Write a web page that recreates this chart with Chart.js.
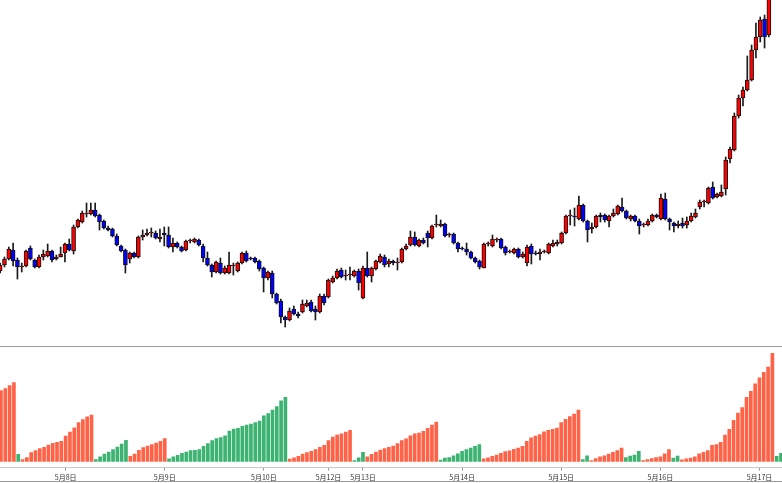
<!DOCTYPE html>
<html><head><meta charset="utf-8">
<script src="https://cdn.jsdelivr.net/npm/chart.js@4.4.1/dist/chart.umd.min.js"></script>
<style>
html,body{margin:0;padding:0;background:#fff;overflow:hidden;width:782px;height:483px;}
#wrap{position:absolute;left:0;top:0;width:782px;height:483px;overflow:hidden;background:#fff;}
#priceCanvas{position:absolute;left:-2px;top:0;}
#volCanvas{position:absolute;left:-2px;top:347px;}
.rule{position:absolute;left:0;width:782px;height:1px;background:#9a9a9a;}
</style></head><body>
<div id="wrap">
<canvas id="priceCanvas" width="786" height="346"></canvas>
<div class="rule" style="top:346px"></div>
<canvas id="volCanvas" width="786" height="138"></canvas>
<div class="rule" style="top:481px"></div>
</div>
<script>
const dayLabels = ['5月8日','5月9日','5月10日','5月12日','5月13日','5月14日','5月15日','5月16日','5月17日'];
const dayStartIndex = [15,38,61,76,84,107,130,153,176];

const open = [
75,81,87,96,86,79,80,98,86,79,
89,90,95,87,89,93,102,95,119,124,
132,132,136,131,125,118,117,110,100,96,
87,93,89,109,111,113,113,107,113,111,
99,103,99,96,105,104,106,100,88,81,
74,83,73,73,80,75,83,93,88,88,
85,78,68,73,52,45,29,26,37,32,
34,40,44,37,34,50,49,64,68,76,
70,71,70,75,48,78,70,77,84,89,
82,85,83,84,97,101,109,100,106,113,
108,121,120,122,111,112,103,98,97,94,
88,85,78,102,100,106,107,99,94,93,
97,89,83,100,93,92,94,93,100,102,
103,113,130,130,127,141,125,117,119,131,
131,125,130,132,139,135,127,130,125,121,
121,125,131,127,147,127,123,120,123,121,
125,129,139,144,143,159,149,150,157,187,
196,230,248,256,266,296,309,327,311,360,
395,385];
const close = [
81,87,97,85,79,80,95,87,79,89,
92,95,86,89,92,102,96,119,126,133,
133,136,130,124,118,116,110,101,95,81,
93,89,109,111,113,114,108,109,111,99,
103,99,95,105,106,107,101,88,81,74,
84,73,78,81,81,83,93,85,87,84,
77,68,74,52,43,29,26,35,32,30,
42,43,35,34,50,43,66,68,75,69,
71,72,75,63,78,70,78,85,90,81,
85,83,84,97,100,109,101,106,103,108,
120,122,122,110,112,103,97,97,94,88,
84,79,102,103,107,107,98,93,95,97,
89,92,99,92,92,94,95,102,103,104,
113,130,131,129,141,125,116,119,130,129,
126,130,133,140,135,128,130,125,120,122,
125,131,129,148,127,124,120,122,120,125,
130,133,144,145,158,148,152,154,186,197,
230,248,256,266,296,309,326,309,360,395,
385,378];
const high = [
83,89,99,103,88,83,96,100,87,91,
96,102,96,91,99,103,107,121,127,135,
143,143,143,132,126,120,118,112,101,97,
94,94,110,116,117,118,115,117,119,119,
108,104,100,106,107,108,107,102,94,82,
85,88,80,94,83,84,94,95,89,89,
86,79,75,75,53,47,30,38,40,34,
46,46,46,40,52,52,67,70,77,78,
76,79,76,77,80,94,79,86,92,91,
87,86,88,98,102,115,114,107,108,115,
121,131,126,123,113,113,104,99,103,95,
89,86,103,104,111,108,108,100,96,98,
98,94,101,102,95,97,96,103,106,106,
114,131,136,138,150,142,126,123,131,133,
132,131,137,141,148,136,131,131,127,123,
127,132,132,152,153,128,124,125,128,129,
133,137,146,146,159,164,153,161,189,199,
233,251,259,290,301,323,329,331,365,400,
402,390];
const low = [
73,79,86,80,67,74,79,86,78,78,
86,89,84,86,89,84,95,92,118,123,
129,131,129,116,117,115,109,100,94,73,
83,88,88,106,110,109,107,104,100,98,
94,98,94,95,103,103,100,84,80,69,
73,72,72,72,71,74,82,84,86,83,
75,54,66,48,42,23,19,25,31,28,
33,39,34,26,33,41,48,63,67,68,
66,66,69,56,47,69,64,76,83,79,
79,81,76,83,96,100,100,99,102,99,
107,119,119,109,109,102,94,96,91,87,
83,77,78,100,99,104,97,91,93,92,
88,88,80,82,91,86,93,92,99,100,
102,112,121,120,126,124,104,113,118,124,
124,119,129,131,134,127,125,124,112,119,
120,124,128,126,126,116,114,118,118,118,
124,128,137,139,142,147,148,149,151,183,
195,228,240,255,265,288,304,298,309,350,
380,372];

const volume = [
70,72,75,78,7,2,4,8.7,10.7,12.7,
14,16.3,18,19,20,25,29,33.3,38.3,41.3,
44,45.7,2,4.7,7.3,9.3,11.7,14.3,17.3,21,
5,7.3,11,13.7,15.3,16.7,18.3,20,22.7,2.7,
4.7,6,8,9.3,10.7,11,11.7,15,17.7,20.7,
22.7,23.7,25.3,30,32,32.7,34.7,36,37,38.5,
40,45,47.3,50.7,54.3,60,63.3,2.3,3.7,5,
7.3,8.7,10,11.7,14,16,20.7,24,26,27.3,
29,30.7,1,3.7,9,4.7,7,9.3,11.3,12.7,
14,15.3,17.7,20.7,22.3,25.3,27.3,28,29.7,32.7,
36,39,1.3,3.3,4,5.7,7.7,10,11.7,13.3,
15,16.7,2.7,3.7,5,6.3,8,9.7,10.5,12,
13.3,15,20,23.3,25,26.7,29.3,30.7,31.7,33,
38.3,41.7,44.3,46.7,50.7,2,5.7,1,3,4.7,
5.7,7.3,9,10.7,13.3,4,5.3,6.3,10,1,
2,3,4,4.7,7.7,11.7,3.3,5.3,1.7,2.7,
3.3,4.7,7.7,9,10.7,16,16.7,19,26,31.7,
40.7,47.7,53.3,63.3,69.3,76.7,82.7,88,93.3,106.7,
5,8];
const volumeDir = [
1,1,1,1,-1,1,1,1,1,1,
1,1,1,1,1,1,1,1,1,1,
1,1,-1,-1,-1,-1,-1,-1,-1,-1,
1,1,1,1,1,1,1,1,1,-1,
-1,-1,-1,-1,-1,-1,-1,-1,-1,-1,
-1,-1,-1,-1,-1,-1,-1,-1,-1,-1,
-1,-1,-1,-1,-1,-1,-1,1,1,1,
1,1,1,1,1,1,1,1,1,1,
1,1,-1,-1,-1,1,1,1,1,1,
1,1,1,1,1,1,1,1,1,1,
1,1,-1,-1,-1,-1,-1,-1,-1,-1,
-1,-1,1,1,1,1,1,1,1,1,
1,1,1,1,1,1,1,1,1,1,
1,1,1,1,1,-1,-1,1,1,1,
1,1,1,1,1,-1,-1,-1,-1,1,
1,1,1,1,1,1,-1,-1,1,1,
1,1,1,1,1,1,1,1,1,1,
1,1,1,1,1,1,1,1,1,1,
-1,-1];

const N = open.length;
const labels = Array.from({length: N}, (_, i) => String(i));
const tickText = {};
dayStartIndex.forEach((idx, j) => { tickText[idx] = dayLabels[j]; });

Chart.defaults.font.family = "'Noto Sans CJK JP','Noto Sans',sans-serif";
Chart.defaults.animation = false;

new Chart(document.getElementById('priceCanvas'), {
  type: 'bar',
  data: {
    labels: labels,
    datasets: [
      {
        label: 'body',
        data: open.map((o, i) => [o, close[i]]),
        backgroundColor: open.map((o, i) => close[i] >= o ? '#ff0000' : '#0000ff'),
        borderColor: '#111111',
        borderWidth: 1,
        borderSkipped: false,
        barThickness: 4,
        grouped: false,
        order: 0
      },
      {
        label: 'wick',
        data: low.map((l, i) => [l, high[i]]),
        backgroundColor: '#1a1a1a',
        borderWidth: 0,
        barThickness: 1,
        grouped: false,
        order: 1
      }
    ]
  },
  options: {
    responsive: false,
    animation: false,
    layout: { padding: 0 },
    plugins: { legend: { display: false }, tooltip: { enabled: false } },
    scales: {
      x: { type: 'category', offset: true, display: false, grid: { offset: false } },
      y: { display: false, min: 0, max: 346 }
    }
  }
});

new Chart(document.getElementById('volCanvas'), {
  type: 'bar',
  data: {
    labels: labels,
    datasets: [{
      label: 'volume',
      data: volume,
      backgroundColor: volumeDir.map(d => d > 0 ? '#ff6347' : '#3cb371'),
      borderWidth: 0,
      barThickness: 3
    }]
  },
  options: {
    responsive: false,
    animation: false,
    layout: { padding: { left: 0, right: 0, top: 0, bottom: 0 } },
    plugins: { legend: { display: false }, tooltip: { enabled: false } },
    scales: {
      x: {
        type: 'category',
        offset: true,
        border: { display: true, color: '#c8c8c8', width: 1 },
        grid: {
          offset: false,
          drawOnChartArea: false,
          drawTicks: true,
          tickLength: 3,
          color: ctx => tickText[ctx.index] ? '#999999' : 'rgba(0,0,0,0)'
        },
        ticks: {
          autoSkip: false,
          maxRotation: 0,
          minRotation: 0,
          padding: 3,
          color: '#333333',
          font: { size: 7 },
          callback: (v, i) => tickText[i] || ''
        }
      },
      y: { display: false, min: -6, max: 113 }
    }
  }
});
</script>
</body></html>
